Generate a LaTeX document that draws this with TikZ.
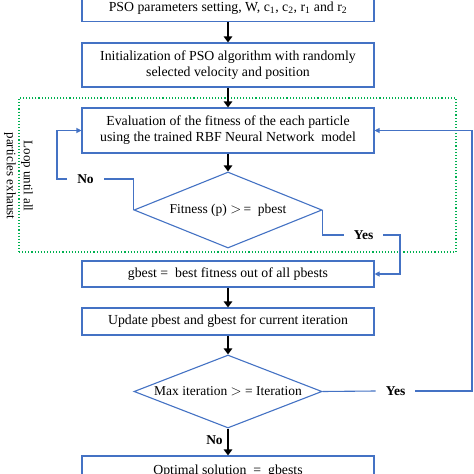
\documentclass[tikz,border=0pt]{standalone}
\usepackage{fontspec}
\setmainfont{Liberation Serif}
\usetikzlibrary{shapes.geometric,arrows.meta,calc}
\definecolor{bblue}{RGB}{68,114,196}
\definecolor{lgreen}{RGB}{0,176,80}
\tikzset{
  stepbox/.style={draw=bblue,line width=1.1pt,minimum width=292pt,inner sep=0pt,align=center,font=\fontsize{13.8}{16}\selectfont},
  decbox/.style={draw=bblue,line width=1.1pt,shape=diamond,minimum width=188pt,inner sep=0pt,aspect=2.47},
  dtext/.style={font=\fontsize{13.5}{16}\selectfont,inner sep=0pt},
  flow/.style={line width=2.4pt,-{Triangle[length=6pt,width=8.5pt]}},
  bline/.style={draw=bblue,line width=1.1pt},
  barrow/.style={draw=bblue,line width=1.1pt,-{Triangle[length=5pt,width=5pt]}},
  ylab/.style={font=\fontsize{13.5}{15}\selectfont\bfseries,inner xsep=10pt,inner ysep=0pt},
}
\begin{document}
\begin{tikzpicture}[x=1pt,y=-1pt]
\clip (0,0) rectangle (474,474);
\fill[white] (0,0) rectangle (474,474);
% green dotted loop box
\node[draw=lgreen,dotted,line width=1.1pt,minimum width=437pt,minimum height=154pt,inner sep=0pt] (loopbox) at (237.5,175) {};
\node[rotate=-90,align=center,font=\fontsize{13}{17}\selectfont,inner sep=0pt] (looptext) at (18.5,176) {Loop until all\\particles exhaust};
% boxes
\node[stepbox,minimum height=26pt] (b1) at (228,8.5) {PSO parameters setting, W, c\textsubscript{1}, c\textsubscript{2}, r\textsubscript{1} and r\textsubscript{2}};
\node[stepbox,minimum height=44pt] (b2) at (228,65) {Initialization of PSO algorithm with randomly\\selected velocity and position};
\node[stepbox,minimum height=45pt] (b3) at (228,130.5) {Evaluation of the fitness of the each particle\\using the trained RBF Neural Network\ \ model};
\node[decbox,minimum height=76pt] (d1) at (228,210) {};
\node[dtext] (d1t) at (228,210) {Fitness (p) $>$\,=\ \ pbest};
\node[stepbox,minimum height=26pt] (b4) at (228,274) {gbest =\ \ best fitness out of all pbests};
\node[stepbox,minimum height=27pt] (b5) at (228,321.5) {Update pbest and gbest for current iteration};
\node[decbox,minimum height=73pt] (d2) at (228,391.5) {};
\node[dtext] (d2t) at (228,391.5) {Max iteration $>$ = Iteration};
\node[stepbox,minimum height=30pt] (b6) at (228,471) {Optimal solution\ \ =\ \ gbests};
% main arrows
\draw[flow] (b1.south) -- (b2.north);
\draw[flow] (b2.south) -- (b3.north);
\draw[flow] (b3.south) -- (d1.north);
\draw[flow] (b4.south) -- (b5.north);
\draw[flow] (b5.south) -- (d2.north);
\draw[flow] (d2.south) -- (b6.north);
\node[ylab,inner xsep=0pt] (no2) at (214.5,440) {No};
% No loop of first decision
\node[ylab] (no1) at (85.5,179) {No};
\coordinate (nl) at (57,179);
\draw[bline] (d1.west) |- (no1.east);
\draw[barrow] (no1.west) -- (nl) |- (b3.west);
% Yes of first decision
\node[ylab] (yes1) at (363.5,235) {Yes};
\coordinate (yr) at (400,235);
\draw[bline] (d1.east) |- (yes1.west);
\draw[barrow] (yes1.east) -- (yr) |- (b4.east);
% Yes of second decision
\node[ylab] (yes2) at (395.5,391) {Yes};
\coordinate (y2r) at (472,391);
\draw[bline] (d2.east) -- (yes2.west);
\draw[barrow] (yes2.east) -- (y2r) |- (b3.east);
\end{tikzpicture}
\end{document}
